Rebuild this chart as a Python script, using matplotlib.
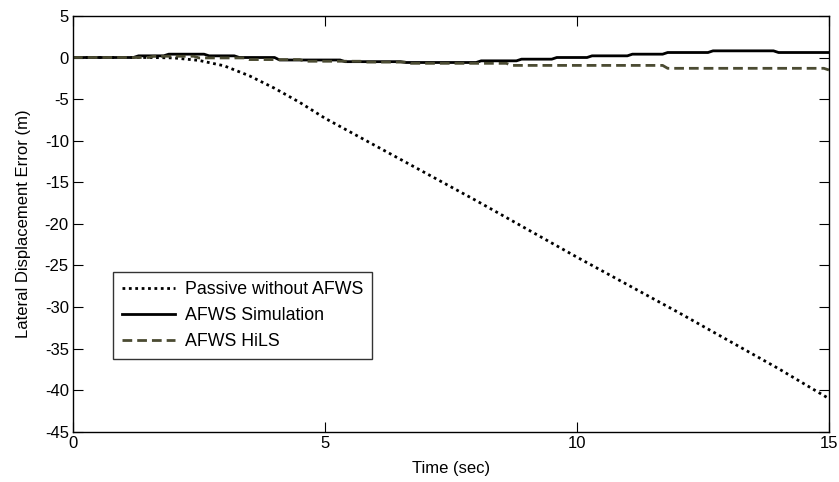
import matplotlib
matplotlib.use("Agg")
import matplotlib.pyplot as plt
import numpy as np

plt.rcParams['font.family'] = ['Liberation Sans', 'DejaVu Sans']
plt.rcParams['axes.unicode_minus'] = False

# Passive without AFWS
t_passive = [0, 1.5, 2.0, 2.5, 3.0, 3.5, 4.0, 4.5, 5.0, 6.0, 7.0, 8.0, 9.0, 10.0, 11.0, 12.0, 13.0, 14.0, 14.5, 15.0]
y_passive = [0, 0, -0.05, -0.35, -1.0, -2.2, -3.7, -5.4, -7.3, -10.6, -13.9, -17.2, -20.6, -24.0, -27.3, -30.6, -34.0, -37.4, -39.2, -41.0]

# AFWS Simulation
t_sim = [0, 1.2, 1.3, 1.8, 1.9, 2.6, 2.7, 3.2, 3.3, 4.0, 4.1, 5.3, 5.4, 6.5, 6.6, 8.0, 8.1, 8.8, 8.9, 9.5, 9.6, 10.2, 10.3, 11.0, 11.1, 11.7, 11.8, 12.6, 12.7, 13.9, 14.0, 15.0]
y_sim = [0, 0, 0.2, 0.2, 0.4, 0.4, 0.2, 0.2, 0.0, 0.0, -0.3, -0.3, -0.5, -0.5, -0.6, -0.6, -0.4, -0.4, -0.2, -0.2, 0.0, 0.0, 0.2, 0.2, 0.4, 0.4, 0.6, 0.6, 0.8, 0.8, 0.6, 0.6]

# AFWS HiLS
t_hils = [0, 1.5, 1.6, 2.4, 2.5, 3.4, 3.5, 4.5, 4.6, 5.7, 5.8, 6.6, 6.7, 8.6, 8.7, 11.7, 11.8, 14.9, 15.0]
y_hils = [0, 0, 0.15, 0.15, -0.05, -0.05, -0.25, -0.25, -0.45, -0.45, -0.55, -0.55, -0.7, -0.7, -0.95, -0.95, -1.3, -1.3, -1.5]

x_ticks = [0, 5, 10, 15]
y_ticks = [5, 0, -5, -10, -15, -20, -25, -30, -35, -40, -45]

fig = plt.figure(figsize=(8.39, 4.82), dpi=100)
ax = fig.add_axes([0.087, 0.104, 0.901, 0.863])

ax.plot(t_passive, y_passive, color='black', linestyle=(0, (1, 1.3)), linewidth=2.0, label='Passive without AFWS')
ax.plot(t_sim, y_sim, color='black', linestyle='-', linewidth=2.0, label='AFWS Simulation')
ax.plot(t_hils, y_hils, color='#4b4b32', linestyle=(0, (3.5, 1.8)), linewidth=2.0, label='AFWS HiLS')

ax.set_xlim(0, 15)
ax.set_ylim(-45, 5)
ax.set_xticks(x_ticks)
ax.set_yticks(y_ticks)
ax.tick_params(direction='in', top=True, right=True, length=7, labelsize=12, colors='black', pad=3)
for s in ax.spines.values():
    s.set_linewidth(1.0)

ax.set_xlabel('Time (sec)', fontsize=12, labelpad=7)
ax.set_ylabel('Lateral Displacement Error (m)', fontsize=12, labelpad=10)

leg = ax.legend(loc='lower left', bbox_to_anchor=(0.053, 0.176), fontsize=12.8, frameon=True,
                fancybox=False, edgecolor='black', handlelength=3.0, handletextpad=0.55,
                borderpad=0.5, labelspacing=0.5, borderaxespad=0)
leg.get_frame().set_linewidth(1.0)

fig.savefig('out.png', dpi=100)
